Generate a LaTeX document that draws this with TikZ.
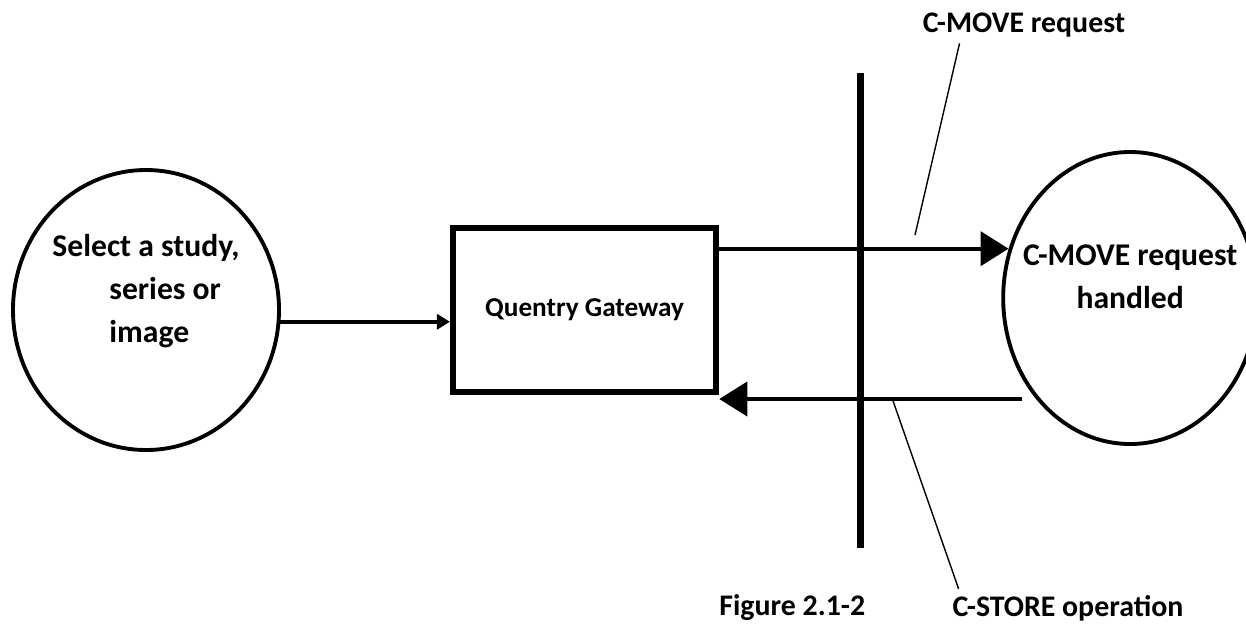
\documentclass[tikz,border=0pt]{standalone}
\usepackage{fontspec}
\setmainfont{Carlito}
\usetikzlibrary{shapes,positioning,calc,arrows.meta}

\begin{document}
\begin{tikzpicture}[every node/.style={font=\bfseries\fontsize{17}{24}\selectfont}, bubble/.style={ellipse, draw, line width=2.2pt, inner sep=0pt, align=center, font=\bfseries\fontsize{18}{24.5}\selectfont}, gate/.style={rectangle, draw, line width=3.6pt, minimum width=5.26cm, minimum height=3.28cm, font=\bfseries\fontsize{15.5}{24}\selectfont}, flow/.style={line width=2.3pt}, leader/.style={line width=0.8pt}, bigtip/.style={-{Triangle[length=0.56cm, width=0.68cm]}}, smalltip/.style={-{Triangle[length=0.26cm, width=0.3cm]}}]

\useasboundingbox (0,0) rectangle (24.92,-12.66);

% PROCESSES

\node [bubble, minimum width=5.32cm, minimum height=5.6cm, align=left] (select) at (2.92,-6.20)
{Select a study,\\\hspace*{1.14cm}series or\\\hspace*{1.14cm}image\\\mbox{}};

\node [gate, right=3.38cm of select] (gateway) {Quentry Gateway};

\node [bubble, minimum width=5.08cm, minimum height=5.84cm, right=5.64cm of gateway, yshift=0.24cm] (handled)
{\makebox[0pt]{C-MOVE request}\\\makebox[0pt]{handled}\\\mbox{}};

% BOUNDARY

\coordinate (bar-top) at (17.2,-1.46);
\coordinate (bar-bottom) at (17.2,-10.96);
\draw [line width=4pt] (bar-top) -- (bar-bottom);

% LABELS

\node (move-label) at (20.48,-0.50) {C-MOVE request};
\node (store-label) at (21.36,-12.16) {C-STORE operation};
\node [left=1.5cm of store-label] (figure-label) {Figure 2.1-2};

% FLOWS

\draw [flow, smalltip] (select.-5.5) -- (select.-5.5 -| gateway.west);

\coordinate (out-start) at ($(gateway.north east)!0.14!(gateway.south east)$);
\draw [flow, bigtip] (out-start) -- (out-start -| handled.158);

\coordinate (back-tail) at ($(handled.center)+(-2.16,-2.02)$);
\draw [flow, bigtip] (back-tail) -- (back-tail -| gateway.east);

\coordinate (move-point) at (18.30,-4.70);
\draw [leader] ($(move-label.south west)!0.2!(move-label.south east)$) -- (move-point);

\coordinate (store-point) at (17.84,-7.96);
\draw [leader] (store-point) -- ($(store-label.north west)!0.05!(store-label.north east)$);

\end{tikzpicture}
\end{document}
